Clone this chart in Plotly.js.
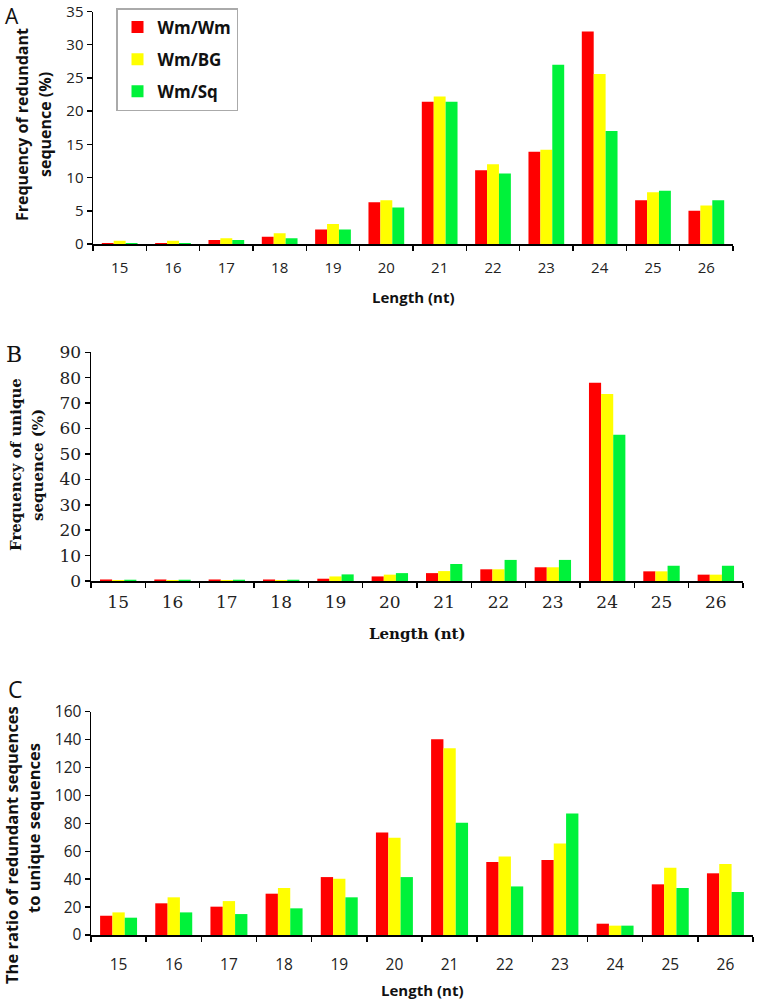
<!DOCTYPE html>
<html>
<head>
<meta charset="utf-8">
<script src="https://cdn.plot.ly/plotly-3.0.1.min.js"></script>
<style>html,body{margin:0;padding:0;background:#fff;}</style>
</head>
<body>
<div id="chart" style="width:760px;height:1004px;"></div>
<script>
const lengths = ['15','16','17','18','19','20','21','22','23','24','25','26'];
const seriesNames = ['Wm/Wm','Wm/BG','Wm/Sq'];
const seriesColors = ['#ff0000','#ffff00','#00f23a'];

// Panel A: frequency of redundant sequence (%)
const redundantWmWm = [0.15,0.15,0.6,1.1,2.2,6.3,21.4,11.1,13.9,32.0,6.6,5.0];
const redundantWmBG = [0.5,0.5,0.85,1.6,3.0,6.6,22.2,12.0,14.2,25.6,7.8,5.8];
const redundantWmSq = [0.15,0.15,0.6,0.85,2.2,5.5,21.4,10.6,27.0,17.0,8.0,6.6];

// Panel B: frequency of unique sequence (%)
const uniqueWmWm = [0.6,0.6,0.6,0.6,0.9,1.8,3.1,4.6,5.4,78.0,3.8,2.5];
const uniqueWmBG = [0.4,0.4,0.4,0.4,1.8,2.5,3.9,4.6,5.4,73.6,3.8,2.5];
const uniqueWmSq = [0.5,0.5,0.5,0.5,2.6,3.1,6.7,8.3,8.3,57.6,6.0,6.0];

// Panel C: ratio of redundant to unique sequences
const ratioWmWm = [13.8,22.7,20.3,29.6,41.5,73.5,140.3,52.3,53.7,8.1,36.3,44.2];
const ratioWmBG = [16.2,27.0,24.3,33.7,40.3,69.7,133.9,56.3,65.6,6.7,48.2,50.8];
const ratioWmSq = [12.4,16.2,15.0,19.1,27.0,41.5,80.4,34.8,87.1,6.7,33.7,30.8];

// y-axis tick values
const ticksA = [0,5,10,15,20,25,30,35];
const ticksB = [0,10,20,30,40,50,60,70,80,90];
const ticksC = [0,20,40,60,80,100,120,140,160];

const W = 760, H = 1004;
const px = v => v / W;
const py = v => 1 - v / H;

const panels = [
  {vals:[redundantWmWm, redundantWmBG, redundantWmSq], xa:'x', ya:'y', legend:true},
  {vals:[uniqueWmWm, uniqueWmBG, uniqueWmSq], xa:'x2', ya:'y2', legend:false},
  {vals:[ratioWmWm, ratioWmBG, ratioWmSq], xa:'x3', ya:'y3', legend:false}
];

const traces = [];
panels.forEach(p => {
  p.vals.forEach((v, i) => {
    traces.push({
      type:'bar', x:lengths, y:v, name:seriesNames[i],
      marker:{color:seriesColors[i], line:{width:0}},
      xaxis:p.xa, yaxis:p.ya, showlegend:p.legend,
      legendgroup:'g'+i
    });
  });
});

const sans = 'Open Sans, Liberation Sans, sans-serif';
const serif = 'DejaVu Serif, Liberation Serif, serif';

function xaxis(domain, anchor, fam, size, standoff){
  return {domain:domain, anchor:anchor, type:'category', range:[-0.5,11.5],
    tickson:'boundaries', ticks:'outside', ticklen:5, tickwidth:1.5, tickcolor:'#000',
    showline:true, linecolor:'#000', linewidth:1.5, showgrid:false, zeroline:false,
    ticklabelstandoff:standoff, ticklabeloverflow:'allow',
    tickfont:{family:fam, size:size, color:'#222'}, fixedrange:true};
}
function yaxis(domain, anchor, range, tv, fam, size){
  return {domain:domain, anchor:anchor, range:range, tickmode:'array', tickvals:tv,
    ticks:'outside', ticklen:5, tickwidth:1.5, tickcolor:'#000',
    showline:true, linecolor:'#000', linewidth:1.5, showgrid:false, zeroline:false,
    ticklabeloverflow:'allow',
    tickfont:{family:fam, size:size, color:'#222'}, fixedrange:true};
}

function ann(text, x, y, fam, size, opts){
  return Object.assign({text:text, x:x, y:y, xref:'paper', yref:'paper',
    xanchor:'center', yanchor:'middle', showarrow:false,
    font:{family:fam, size:size, color:'#111', weight:'bold'}}, opts || {});
}

const layout = {
  width:W, height:H, margin:{l:0,r:0,t:0,b:0},
  paper_bgcolor:'#fff', plot_bgcolor:'#fff',
  barmode:'group', bargap:0.33, bargroupgap:0,
  xaxis: xaxis([px(93), px(733)], 'y', sans, 15, 9),
  yaxis: yaxis([py(244), py(11.5)], 'x', [0,35], ticksA, sans, 15),
  xaxis2: xaxis([px(91), px(743)], 'y2', serif, 17, 5),
  yaxis2: yaxis([py(581), py(352.3)], 'x2', [0,90], ticksB, serif, 17),
  xaxis3: xaxis([px(91), px(753)], 'y3', sans, 15.5, 15),
  yaxis3: yaxis([py(935), py(711.7)], 'x3', [0,160], ticksC, sans, 15.5),
  legend:{x:px(116), y:py(8), xanchor:'left', yanchor:'top',
    bgcolor:'#fff', bordercolor:'#aaa', borderwidth:1.5,
    font:{family:sans, size:17, color:'#111', weight:'bold'},
    traceorder:'grouped', tracegroupgap:7, itemwidth:30},
  annotations:[
    ann('A', px(12), py(16), sans, 21, {font:{family:sans, size:21, color:'#111'}}),
    ann('B', px(14), py(354), serif, 22, {font:{family:serif, size:22, color:'#111'}}),
    ann('C', px(15), py(689), sans, 23, {font:{family:sans, size:23, color:'#111'}}),
    // Panel A titles
    ann('Frequency of redundant', px(22), py(125), sans, 16, {textangle:-90}),
    ann('sequence (%)', px(45), py(125), sans, 16, {textangle:-90}),
    ann('Length (nt)', 0.5, py(297), sans, 15, {xref:'x domain'}),
    // Panel B titles
    ann('Frequency of unique', px(16), py(465), serif, 15, {textangle:-90}),
    ann('sequence (%)', px(38), py(465), serif, 15, {textangle:-90}),
    ann('Length (nt)', 0.5, py(634), serif, 15, {xref:'x2 domain'}),
    // Panel C titles
    ann('The ratio of redundant sequences', px(11), py(845), sans, 16.5, {textangle:-90}),
    ann('to unique sequences', px(33), py(828), sans, 16.5, {textangle:-90}),
    ann('Length (nt)', 0.5, py(990), sans, 15, {xref:'x3 domain'})
  ]
};

Plotly.newPlot('chart', traces, layout, {displayModeBar:false, staticPlot:true});
</script>
</body>
</html>
